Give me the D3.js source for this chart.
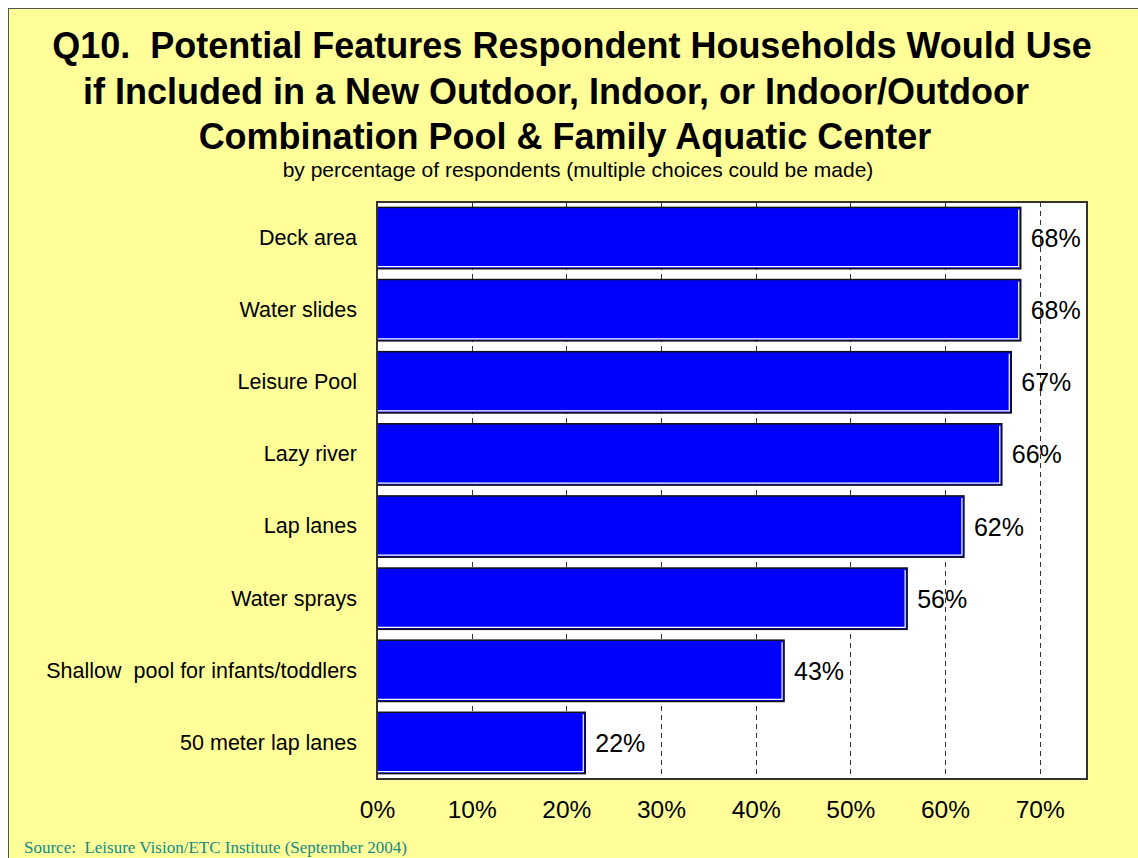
<!DOCTYPE html>
<html>
<head>
<meta charset="utf-8">
<script src="https://cdn.jsdelivr.net/npm/d3@7"></script>
<style>
  html, body { margin: 0; padding: 0; background: #ffffff; }
  svg { display: block; }
  text { white-space: pre; }
</style>
</head>
<body>
<svg id="chart" width="1138" height="858"></svg>
<script>
// Survey features (top to bottom) and share of respondents who would use each
const categories = [
  "Deck area",
  "Water slides",
  "Leisure Pool",
  "Lazy river",
  "Lap lanes",
  "Water sprays",
  "Shallow  pool for infants/toddlers",
  "50 meter lap lanes"
];
const values = [0.68, 0.68, 0.67, 0.66, 0.62, 0.56, 0.43, 0.22];
const tickValues = [0, 0.1, 0.2, 0.3, 0.4, 0.5, 0.6, 0.7];

const titleLines = [
  "Q10.  Potential Features Respondent Households Would Use",
  "if Included in a New Outdoor, Indoor, or Indoor/Outdoor",
  "Combination Pool & Family Aquatic Center"
];
const subtitle = "by percentage of respondents (multiple choices could be made)";
const source = "Source:  Leisure Vision/ETC Institute (September 2004)";

const svg = d3.select("#chart");
const W = 1138, H = 858;
const plot = { left: 377, top: 202, right: 1087, bottom: 779 };
const sans = "Arial, 'Liberation Sans', sans-serif";
const titleCenters = [572, 556, 565];

// Pale yellow slide panel
svg.append("rect")
  .attr("x", 8.5).attr("y", 8.5)
  .attr("width", W).attr("height", H)
  .attr("fill", "#ffff99")
  .attr("stroke", "#555").attr("stroke-width", 1);

// Title block
const title = svg.append("g")
  .attr("font-family", sans)
  .attr("font-weight", "bold")
  .attr("font-size", 36)
  .attr("text-anchor", "middle")
  .attr("fill", "#000");
title.selectAll("text").data(titleLines).join("text")
  .attr("x", (d, i) => titleCenters[i])
  .attr("y", (d, i) => 58 + i * 45.5)
  .text(d => d);

svg.append("text")
  .attr("x", 578).attr("y", 177)
  .attr("text-anchor", "middle")
  .attr("font-family", sans)
  .attr("font-size", 21)
  .attr("fill", "#000")
  .text(subtitle);

// Scales
const x = d3.scaleLinear().domain([0, 0.75]).range([plot.left, plot.right]);
const y = d3.scaleBand()
  .domain(categories)
  .range([plot.top, plot.bottom])
  .paddingInner(0.15)
  .paddingOuter(0.075);

// Plot background
svg.append("rect")
  .attr("x", plot.left).attr("y", plot.top)
  .attr("width", plot.right - plot.left)
  .attr("height", plot.bottom - plot.top)
  .attr("fill", "#ffffff");

// Dashed vertical gridlines
svg.append("g")
  .selectAll("line")
  .data(tickValues.filter(v => v > 0))
  .join("line")
  .attr("x1", d => Math.round(x(d)) + 0.5)
  .attr("x2", d => Math.round(x(d)) + 0.5)
  .attr("y1", plot.top)
  .attr("y2", plot.bottom)
  .attr("stroke", "#333")
  .attr("stroke-width", 1)
  .attr("stroke-dasharray", "5,4");

// Bars with a dark outline and a light inner edge on the right/bottom
const bars = svg.append("g").selectAll("g")
  .data(categories.map((c, i) => ({ c, v: values[i] })))
  .join("g");

bars.append("rect")
  .attr("x", x(0))
  .attr("y", d => y(d.c))
  .attr("width", d => x(d.v) - x(0))
  .attr("height", y.bandwidth())
  .attr("fill", "#0000ff")
  .attr("stroke", "#111")
  .attr("stroke-width", 1.5);

bars.append("polyline")
  .attr("points", d => {
    const x1 = x(d.v) - 2, y0 = y(d.c) + 2, y1 = y(d.c) + y.bandwidth() - 2;
    return `${x(0) + 1},${y1} ${x1},${y1} ${x1},${y0}`;
  })
  .attr("fill", "none")
  .attr("stroke", "#ffffff")
  .attr("stroke-width", 1.2);

// Value labels
const pct = d3.format(".0%");
bars.append("text")
  .attr("x", d => x(d.v) + 10)
  .attr("y", d => y(d.c) + y.bandwidth() / 2 + 9)
  .attr("font-family", sans)
  .attr("font-size", 25)
  .attr("fill", "#000")
  .text(d => pct(d.v));

// Plot frame
svg.append("rect")
  .attr("x", plot.left).attr("y", plot.top)
  .attr("width", plot.right - plot.left)
  .attr("height", plot.bottom - plot.top)
  .attr("fill", "none")
  .attr("stroke", "#333")
  .attr("stroke-width", 2);

// Category axis
const yAxis = svg.append("g")
  .attr("transform", `translate(${plot.left},0)`)
  .call(d3.axisLeft(y).tickSize(0).tickPadding(20));
yAxis.select(".domain").remove();
yAxis.selectAll("text")
  .attr("font-family", sans)
  .attr("font-size", 21.5)
  .attr("fill", "#000");

// Percentage axis
const xAxis = svg.append("g")
  .attr("transform", `translate(0,${plot.bottom})`)
  .call(d3.axisBottom(x).tickValues(tickValues).tickFormat(pct).tickSize(0).tickPadding(22));
xAxis.select(".domain").remove();
xAxis.selectAll("text")
  .attr("font-family", sans)
  .attr("font-size", 24.5)
  .attr("fill", "#000");

// Source note
svg.append("text")
  .attr("x", 24).attr("y", 853)
  .attr("font-family", "'Times New Roman', 'Liberation Serif', serif")
  .attr("font-size", 17)
  .attr("fill", "#148a87")
  .text(source);
</script>
</body>
</html>
